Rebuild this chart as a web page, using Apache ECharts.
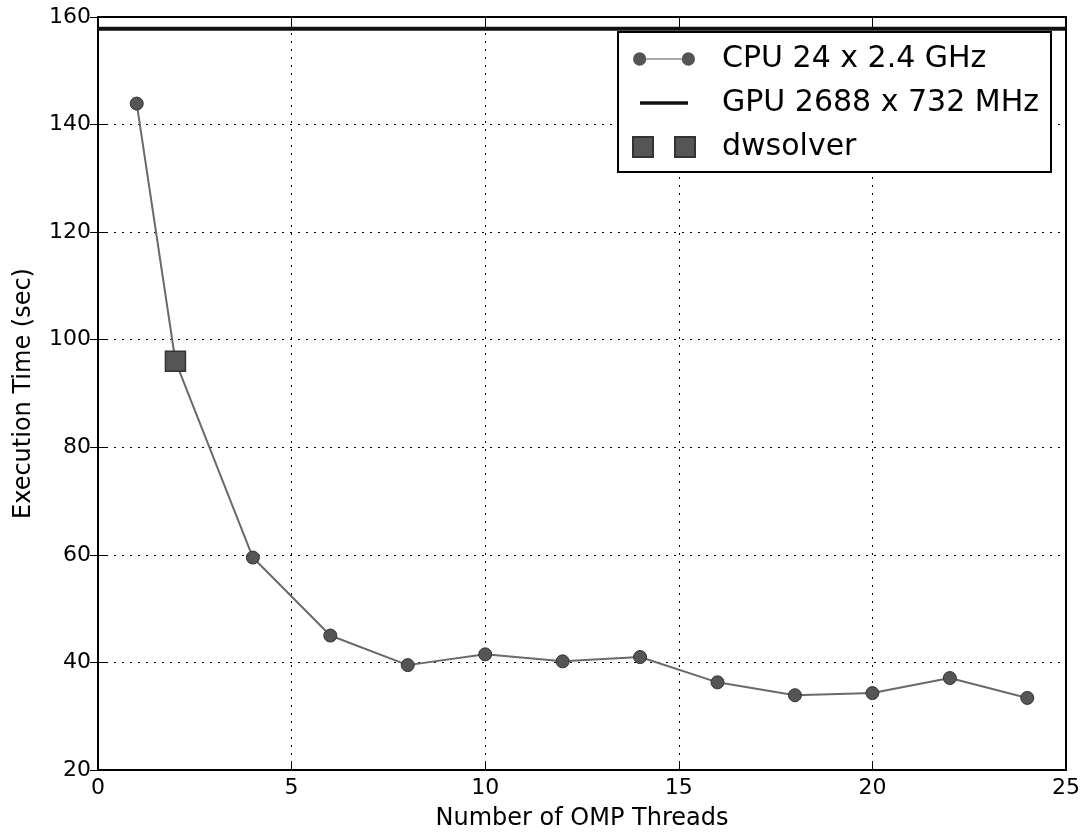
<!DOCTYPE html>
<html>
<head>
<meta charset="utf-8">
<script src="https://cdn.jsdelivr.net/npm/echarts@6/dist/echarts.min.js"></script>
<style>
  html, body { margin: 0; padding: 0; background: #fff; }
  #chart { width: 1088px; height: 836px; }
</style>
</head>
<body>
<div id="chart"></div>
<script>
// values
var threads = [1, 2, 4, 6, 8, 10, 12, 14, 16, 18, 20, 22, 24];
var cpuTime = [143.9, 96.0, 59.5, 45.0, 39.5, 41.5, 40.2, 41.0, 36.3, 33.9, 34.3, 37.1, 33.4];
var gpuTime = 157.8;
var dwsolverThreads = [2];
var dwsolverTime = [96.0];
var xTicks = [0, 5, 10, 15, 20, 25];
var yTicks = [20, 40, 60, 80, 100, 120, 140, 160];

var font = 'DejaVu Sans';

var cpuData = threads.map(function (t, i) { return [t, cpuTime[i]]; });
var gpuData = [[xTicks[0], gpuTime], [xTicks[xTicks.length - 1], gpuTime]];
var dwData = dwsolverThreads.map(function (t, i) { return [t, dwsolverTime[i]]; });

var tickStyle = { show: true, inside: true, length: 8, lineStyle: { color: '#000', width: 1 } };
var gridLine = { show: true, lineStyle: { color: '#000', type: [2, 6], width: 1 } };

var option = {
  backgroundColor: '#fff',
  animation: false,
  grid: {
    left: 98, right: 22, top: 17, bottom: 64,
    show: true, borderColor: '#000', borderWidth: 2, backgroundColor: 'transparent'
  },
  legend: {
    orient: 'vertical',
    right: 37,
    top: 32,
    padding: [12, 12, 10, 14],
    itemGap: 14,
    itemWidth: 62,
    itemHeight: 20,
    backgroundColor: '#fff',
    borderColor: '#000',
    borderWidth: 2,
    borderRadius: 0,
    textStyle: { fontFamily: font, fontSize: 30, color: '#000', lineHeight: 30, padding: [0, 0, 0, 22] },
    data: [
      { name: 'CPU 24 x 2.4 GHz', itemStyle: { borderWidth: 0 },
        icon: 'path://M0,6a6,6 0 1,0 12,0a6,6 0 1,0 -12,0z M44,6a6,6 0 1,0 12,0a6,6 0 1,0 -12,0z M12,5.5h32v1h-32z' },
      { name: 'GPU 2688 x 732 MHz', icon: 'path://M0,0 M62,20 M7,8.25h48v3.5h-48z' },
      { name: 'dwsolver', icon: 'path://M0,0h20v20h-20z M42,0h20v20h-20z' }
    ]
  },
  xAxis: [{
    type: 'value',
    min: 0, max: 25, interval: 5,
    name: 'Number of OMP Threads',
    nameLocation: 'middle',
    nameGap: 37,
    nameTextStyle: { fontFamily: font, fontSize: 24, color: '#000' },
    axisLine: { show: true, lineStyle: { color: '#000', width: 2 } },
    axisTick: tickStyle,
    axisLabel: { fontFamily: font, fontSize: 22, color: '#000', margin: 7 },
    splitLine: gridLine
  }, {
    type: 'value',
    position: 'top',
    min: 0, max: 25, interval: 5,
    axisLine: { show: false },
    axisTick: tickStyle,
    axisLabel: { show: false },
    splitLine: { show: false }
  }],
  yAxis: [{
    type: 'value',
    min: 20, max: 160, interval: 20,
    name: 'Execution Time (sec)',
    nameLocation: 'middle',
    nameGap: 62,
    nameTextStyle: { fontFamily: font, fontSize: 24, color: '#000' },
    axisLine: { show: true, lineStyle: { color: '#000', width: 2 } },
    axisTick: tickStyle,
    axisLabel: { fontFamily: font, fontSize: 22, color: '#000', margin: 7 },
    splitLine: gridLine
  }, {
    type: 'value',
    position: 'right',
    min: 20, max: 160, interval: 20,
    axisLine: { show: false },
    axisTick: tickStyle,
    axisLabel: { show: false },
    splitLine: { show: false }
  }],
  series: [{
    name: 'CPU 24 x 2.4 GHz',
    type: 'line',
    data: cpuData,
    symbol: 'circle',
    symbolSize: 13,
    symbolKeepAspect: true,
    lineStyle: { color: '#6a6a6a', width: 2 },
    itemStyle: { color: '#555', borderColor: '#333', borderWidth: 1 },
    z: 3
  }, {
    name: 'GPU 2688 x 732 MHz',
    type: 'line',
    data: gpuData,
    symbol: 'none',
    symbolKeepAspect: true,
    lineStyle: { color: '#111', width: 4 },
    itemStyle: { color: '#111' },
    z: 2
  }, {
    name: 'dwsolver',
    type: 'scatter',
    data: dwData,
    symbol: 'rect',
    symbolSize: 20,
    symbolKeepAspect: true,
    itemStyle: { color: '#555', borderColor: '#333', borderWidth: 1.5, opacity: 1 },
    z: 4
  }]
};

var myChart = echarts.init(document.getElementById('chart'), null, { renderer: 'canvas' });
myChart.setOption(option);
</script>
</body>
</html>
